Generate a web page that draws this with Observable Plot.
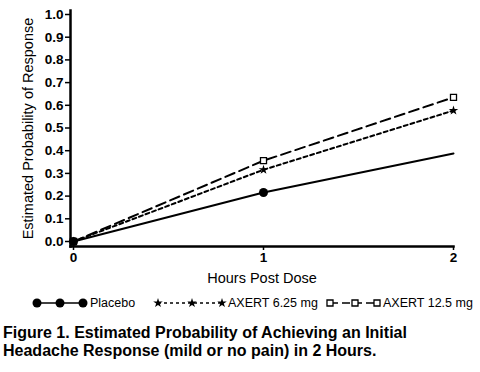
<!DOCTYPE html>
<html><head><meta charset="utf-8">
<script src="https://cdn.jsdelivr.net/npm/d3@7"></script>
<script src="https://cdn.jsdelivr.net/npm/@observablehq/plot@0.6"></script>
<style>
body{margin:0;background:#fff;font-family:"Liberation Sans",Arial,Helvetica,sans-serif;}
#wrap{position:relative;width:480px;height:372px;overflow:hidden;background:#fff;}
#chart{position:absolute;left:0;top:0;}
#legend{position:absolute;left:0;top:290px;}
#caption{position:absolute;left:3px;top:324px;font-weight:bold;font-size:16px;line-height:18px;color:#000;white-space:nowrap;}
</style></head><body>
<div id="wrap"><div id="chart"></div><div id="legend"></div><div id="caption"></div></div>
<script>
// ---- data ----
const hours = [0, 1, 2];
const placebo = [0, 0.216, 0.388];
const axert625 = [0, 0.316, 0.577];
const axert125 = [0, 0.356, 0.635];
const seriesNames = ["Placebo", "AXERT 6.25 mg", "AXERT 12.5 mg"];
const placeboMarkerHours = [0, 1];
const axertMarkerHours = [0, 1, 2];
const yTicks = [0, 0.1, 0.2, 0.3, 0.4, 0.5, 0.6, 0.7, 0.8, 0.9, 1.0];
const xTicks = [0, 1, 2];
const xLabel = "Hours Post Dose";
const yLabel = "Estimated Probability of Response";
const captionLines = ["Figure 1. Estimated Probability of Achieving an Initial", "Headache Response (mild or no pain) in 2 Hours."];

// ---- styles ----
const FONT = '"Liberation Sans", Arial, Helvetica, sans-serif';
const styles = {
  "Placebo":       {dash: null,   legendDash: null,  symbol: "circle", r: 4.5, fill: "black", sw: 0},
  "AXERT 6.25 mg": {dash: "4,3",  legendDash: "3,3", symbol: "star",   r: 3.0, fill: "black", sw: 0},
  "AXERT 12.5 mg": {dash: "10,5", legendDash: "8,4", symbol: "square", r: 3.4, fill: "white", sw: 1.3}
};
const markerHours = {"Placebo": placeboMarkerHours, "AXERT 6.25 mg": axertMarkerHours, "AXERT 12.5 mg": axertMarkerHours};
const values = {"Placebo": placebo, "AXERT 6.25 mg": axert625, "AXERT 12.5 mg": axert125};
const rows = seriesNames.flatMap(s => hours.map((h, i) => ({series: s, hour: h, value: values[s][i]})));

const lineMarks = seriesNames.map(s => Plot.line(rows.filter(d => d.series === s), {
  x: "hour", y: "value", stroke: "black", strokeWidth: 2, strokeDasharray: styles[s].dash
}));
const dotOrder = ["AXERT 12.5 mg", "AXERT 6.25 mg", "Placebo"];
const dotMarks = dotOrder.map(s => Plot.dot(rows.filter(d => d.series === s && markerHours[s].includes(d.hour)), {
  x: "hour", y: "value", symbol: styles[s].symbol, r: styles[s].r, fill: styles[s].fill,
  stroke: styles[s].sw ? "black" : "none", strokeWidth: styles[s].sw
}));

const chart = Plot.plot({
  width: 480, height: 290,
  marginLeft: 70, marginRight: 27, marginTop: 10, marginBottom: 44,
  style: {fontFamily: FONT, color: "black", background: "white"},
  x: {domain: [0, 2], insetLeft: 3},
  y: {domain: [0, 1], insetTop: 4, insetBottom: 5},
  marks: [
    Plot.axisY({ticks: yTicks, tickFormat: d3.format(".1f"), tickSize: 5, tickPadding: 2, fontWeight: "bold", fontSize: 13.5, strokeWidth: 1.5, label: null}),
    Plot.axisY({ticks: [], label: yLabel, labelAnchor: "center", labelArrow: "none", labelOffset: 48, fontSize: 14.5}),
    Plot.axisX({ticks: xTicks, tickFormat: d => String(d), tickSize: 4, tickPadding: 2, fontWeight: "bold", fontSize: 13.5, strokeWidth: 1.5, label: null}),
    Plot.axisX({ticks: [], label: xLabel, labelAnchor: "center", labelArrow: "none", labelOffset: 36, fontSize: 14.5}),
    Plot.frame({anchor: "left", strokeWidth: 2.5}),
    Plot.frame({anchor: "bottom", strokeWidth: 2.5}),
    ...lineMarks,
    ...dotMarks
  ]
});
document.getElementById("chart").append(chart);

// ---- legend ----
const legendLayout = [
  {start: 37, offs: [0, 23, 46], text: 90},
  {start: 158, offs: [0, 34, 64], text: 228},
  {start: 330, offs: [0, 25, 47], text: 383}
];
const lsvg = d3.create("svg").attr("width", 480).attr("height", 26);
const cy = 13;
seriesNames.forEach((s, i) => {
  const L = legendLayout[i], st = styles[s];
  const g = lsvg.append("g");
  g.append("line").attr("x1", L.start).attr("x2", L.start + L.offs[2]).attr("y1", cy).attr("y2", cy)
    .attr("stroke", "black").attr("stroke-width", 1.6).attr("stroke-dasharray", st.legendDash);
  const sym = {circle: d3.symbolCircle, star: d3.symbolStar, square: d3.symbolSquare}[st.symbol];
  L.offs.forEach(o => {
    g.append("path").attr("d", d3.symbol(sym, st.r * st.r * Math.PI)())
      .attr("transform", `translate(${L.start + o},${cy})`)
      .attr("fill", st.fill).attr("stroke", st.sw ? "black" : "none").attr("stroke-width", st.sw);
  });
  g.append("text").attr("x", L.text).attr("y", cy).attr("dy", "0.35em")
    .attr("font-family", FONT).attr("font-size", 12.5).attr("fill", "black").text(s);
});
document.getElementById("legend").append(lsvg.node());

document.getElementById("caption").innerHTML = captionLines.join("<br>");
</script>
</body></html>
